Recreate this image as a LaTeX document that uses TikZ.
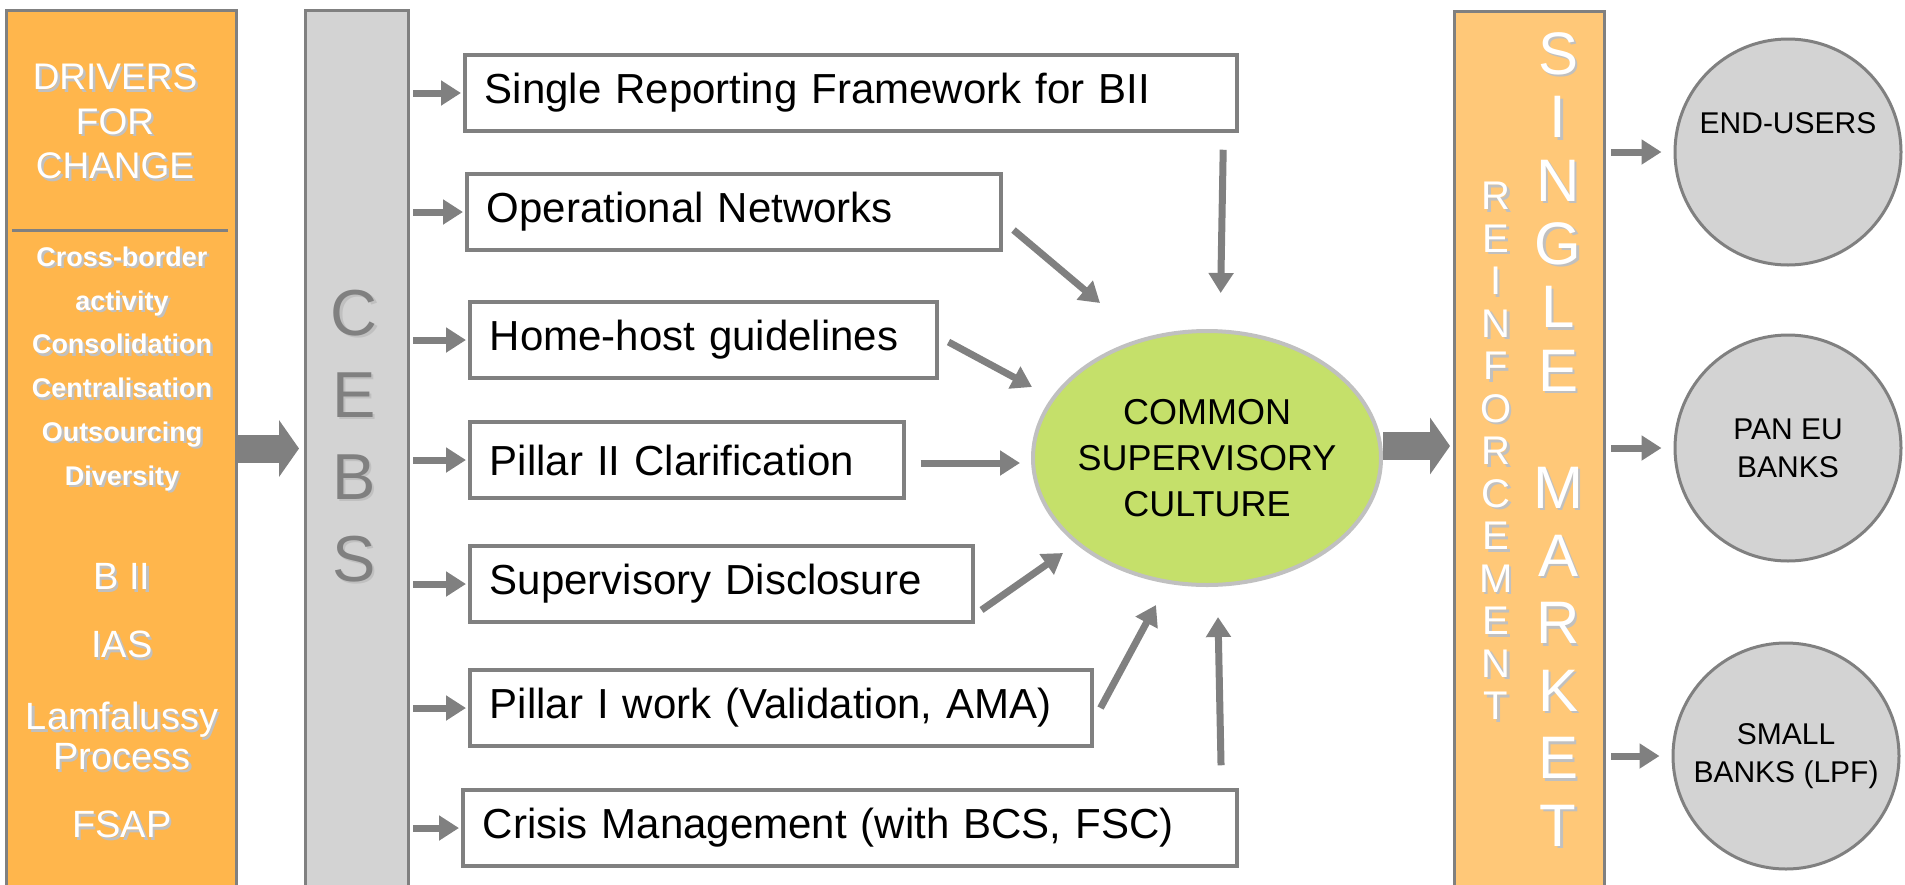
\documentclass[tikz,border=0pt]{standalone}
\usepackage{fontspec}
\setmainfont{Liberation Sans}
\usetikzlibrary{arrows.meta,shapes.geometric}

\definecolor{driverorange}{RGB}{255,182,76}
\definecolor{marketorange}{RGB}{255,200,120}
\definecolor{linegray}{RGB}{128,128,128}
\definecolor{bankgray}{RGB}{211,211,211}
\definecolor{shadowgray}{RGB}{192,192,192}
\definecolor{lime}{RGB}{197,224,106}

% text with a light drop shadow
\newcommand\dropped[1]{\makebox[0pt][l]{\kern2.5pt\raisebox{-2.5pt}{\color{shadowgray}#1}}#1}

\begin{document}
\begin{tikzpicture}[x=1pt, y=-1pt,
  panel/.style = {draw=linegray, line width=3pt, anchor=north west, minimum height=900pt},
  item/.style = {draw=linegray, line width=3.5pt, fill=white, anchor=west, align=left,
                 minimum height=76pt, inner xsep=20pt, font=\fontsize{42}{50}\selectfont},
  bank/.style = {draw=linegray, line width=3pt, fill=bankgray, circle, minimum size=226pt,
                 align=center, font=\fontsize{30}{38}\selectfont},
  paneltext/.style = {text=white, align=center},
  feed/.style = {draw=linegray, line width=7pt, -{Triangle[length=20pt,width=24pt]}},
  fat/.style = {draw=linegray, line width=28pt, -{Triangle[length=20pt,width=56pt]}}]

\useasboundingbox (0,0) rectangle (1905,884);

% three columns
\node[panel, fill=driverorange, minimum width=230pt] (drivers) at (5,9) {};
\node[panel, fill=bankgray, minimum width=103pt] (cebs) at (304,9) {};
\node[panel, fill=marketorange, minimum width=150pt] (market) at (1453,10) {};
\draw[linegray, line width=3pt] (12,230) -- (228,230);

% drivers for change
\node[paneltext, font=\fontsize{37}{44.5}\selectfont] (title) at (115,123)
  {\dropped{DRIVERS}\\\dropped{FOR}\\\dropped{CHANGE}};
\node[paneltext, font=\bfseries\fontsize{27}{43.8}\selectfont] (forces) at (122,370)
  {\dropped{Cross-border}\\\dropped{activity}\\\dropped{Consolidation}\\
   \dropped{Centralisation}\\\dropped{Outsourcing}\\\dropped{Diversity}};
\node[paneltext, font=\fontsize{38}{40}\selectfont] (acts) at (122,702)
  {\dropped{B II}\\[28pt]\dropped{IAS}\\[32pt]\dropped{Lamfalussy}\\\dropped{Process}\\[28pt]\dropped{FSAP}};

% CEBS
\node[text=linegray, align=center, font=\fontsize{65}{82}\selectfont] (cebsname) at (354,437)
  {\dropped{C}\\\dropped{E}\\\dropped{B}\\\dropped{S}};

% work streams
\node[item, text width=732pt] (box1) at (463,93) {Single Reporting Framework for BII};
\node[item, text width=494pt] (box2) at (465,212) {Operational Networks};
\node[item, text width=427pt] (box3) at (468,340) {Home-host guidelines};
\node[item, text width=394pt] (box4) at (468,460) {Pillar II Clarification};
\node[item, text width=463pt] (box5) at (468,584) {Supervisory Disclosure};
\node[item, text width=582pt] (box6) at (468,708) {Pillar I work (Validation, AMA)};
\node[item, text width=734pt] (box7) at (461,828) {Crisis Management (with BCS, FSC)};

\node[ellipse, draw=shadowgray, line width=4pt, fill=lime, minimum width=348pt, minimum height=254pt,
      inner xsep=-50pt, inner ysep=0pt, align=center, font=\fontsize{36}{46}\selectfont] (csc) at (1207,458)
  {COMMON\\SUPERVISORY\\CULTURE};

% single market
\node[paneltext, font=\fontsize{40}{42.5}\selectfont] (reinf) at (1496,452)
  {\dropped{R}\\\dropped{E}\\\dropped{I}\\\dropped{N}\\\dropped{F}\\\dropped{O}\\\dropped{R}\\
   \dropped{C}\\\dropped{E}\\\dropped{M}\\\dropped{E}\\\dropped{N}\\\dropped{T}};
\node[paneltext, font=\fontsize{60}{63.4}\selectfont] (single) at (1558,213)
  {\dropped{S}\\\dropped{I}\\\dropped{N}\\\dropped{G}\\\dropped{L}\\\dropped{E}};
\node[paneltext, font=\fontsize{60}{67.6}\selectfont] (mkt) at (1558,658)
  {\dropped{M}\\\dropped{A}\\\dropped{R}\\\dropped{K}\\\dropped{E}\\\dropped{T}};

\node[bank, text depth=58pt] (endusers) at (1788,152) {END-USERS};
\node[bank] (paneu) at (1788,448) {PAN EU\\BANKS};
\node[bank] (small) at (1786,756) {SMALL\\BANKS (LPF)};

% arrows
\draw[fat, shorten >=5pt] ([yshift=12pt]drivers.east) -- ([yshift=12pt]cebs.west);
\foreach \b in {box1,box2,box3,box4,box5,box6,box7}
  \draw[feed, shorten <=3pt, shorten >=2pt] (cebs.east |- \b.west) -- (\b.west);

\draw[feed, shorten <=17pt, shorten >=36pt] ([xshift=-15pt]box1.south east) -- ([xshift=13pt]csc.north);
\draw[feed] ([xshift=11pt,yshift=-18pt]box2.east) -- ([xshift=-107pt,yshift=155pt]csc.center);
\draw[feed] ([xshift=10pt,yshift=-2pt]box3.east) -- ([xshift=-175pt,yshift=71pt]csc.center);
\draw[feed] ([xshift=15pt,yshift=-3pt]box4.east) -- ([xshift=-187pt,yshift=-5pt]csc.center);
\draw[feed] ([xshift=7pt,yshift=-26pt]box5.east) -- ([xshift=-144pt,yshift=-95pt]csc.center);
\draw[feed] ([xshift=7pt]box6.east) -- ([xshift=-51pt,yshift=-147pt]csc.center);
\draw[feed, shorten <=23pt] ([xshift=-17pt]box7.north east) -- ([xshift=11pt,yshift=-159pt]csc.center);

\draw[fat, shorten >=3pt] ([yshift=12pt]csc.east) -- ([yshift=12pt]csc.east -| market.west);
\draw[feed, shorten <=5pt, shorten >=12pt] (market.east |- endusers) -- (endusers.west);
\draw[feed, shorten <=5pt, shorten >=12pt] (market.east |- paneu) -- (paneu.west);
\draw[feed, shorten <=5pt, shorten >=12pt] (market.east |- small) -- (small.west);

\end{tikzpicture}
\end{document}
